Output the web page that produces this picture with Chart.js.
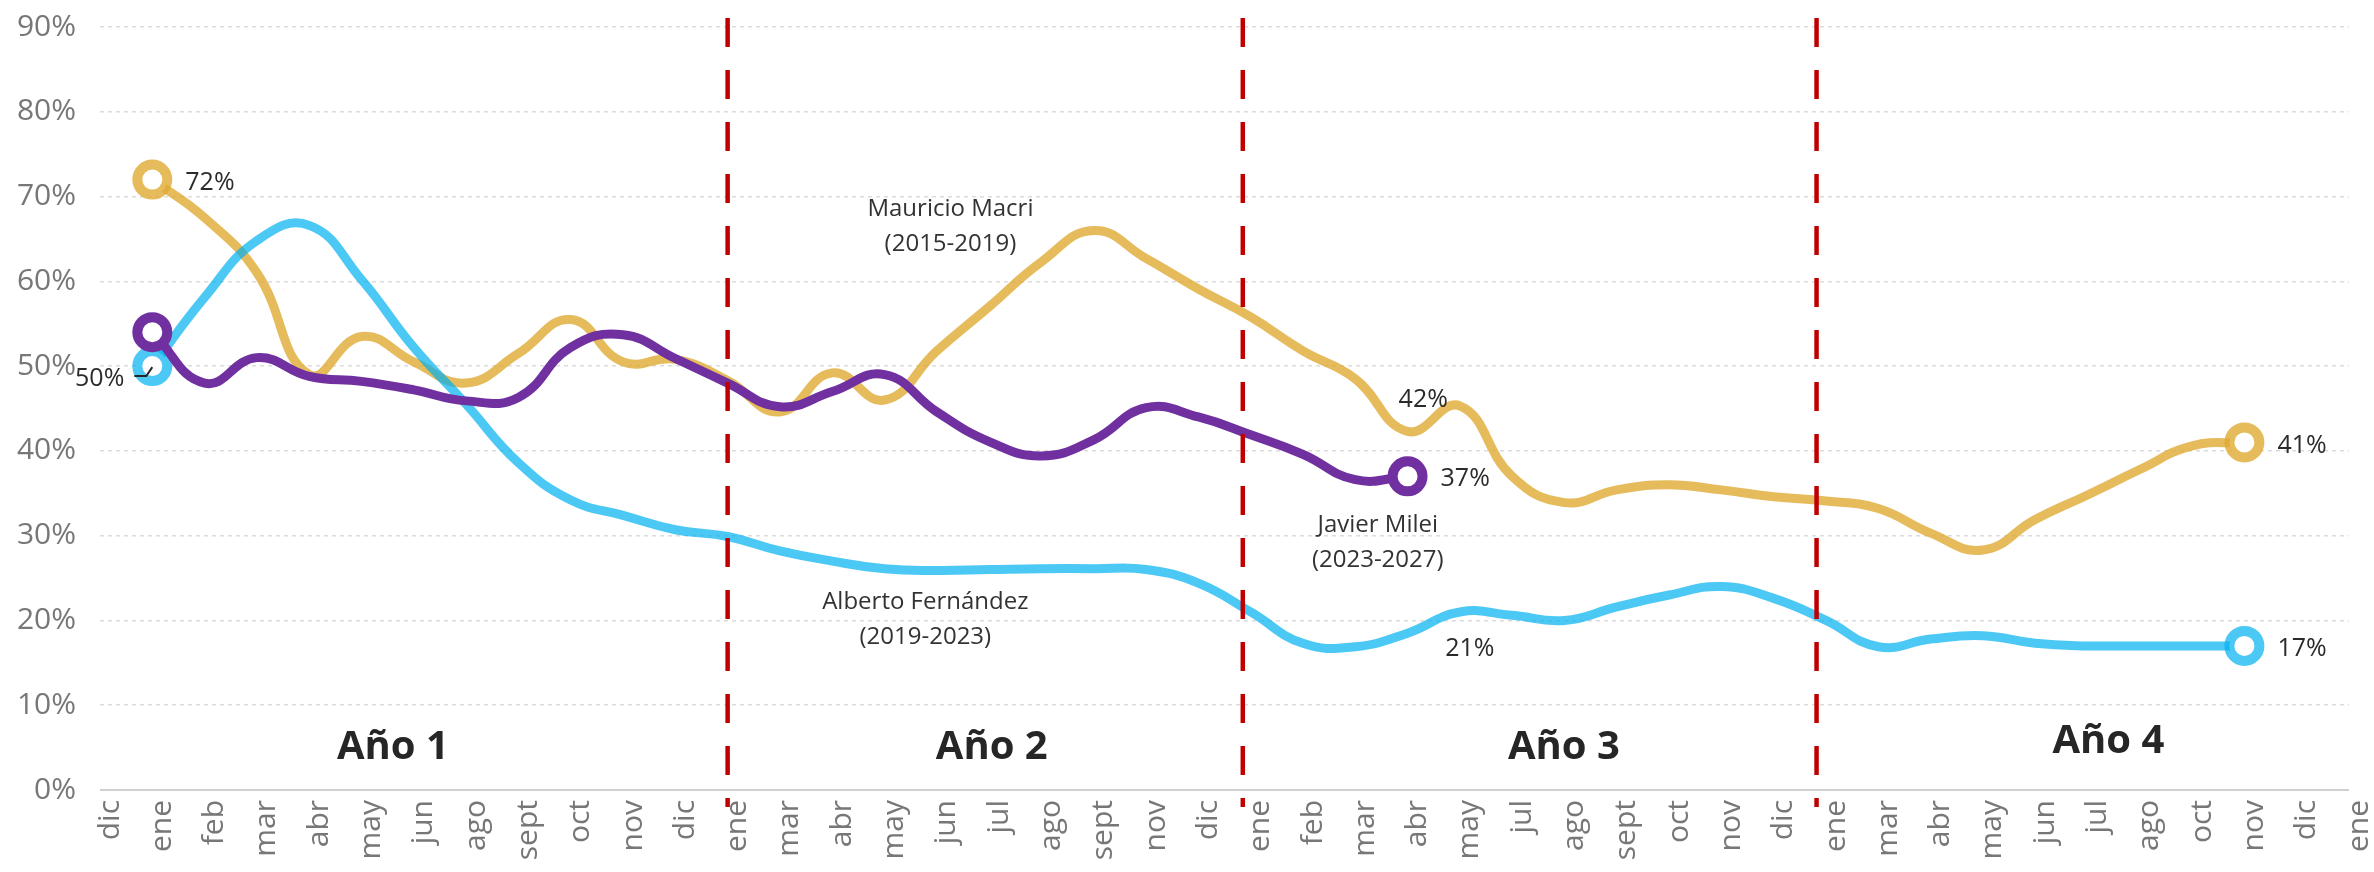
<!DOCTYPE html>
<html>
<head>
<meta charset="utf-8">
<script src="https://cdn.jsdelivr.net/npm/chart.js@4.4.1/dist/chart.umd.min.js"></script>
<style>
  html, body { margin: 0; padding: 0; background: #fff; }
</style>
</head>
<body>
<canvas id="chart" width="2374" height="872"></canvas>
<script>
// category labels (one per poll)
const months = ['dic', 'ene', 'feb', 'mar', 'abr', 'may', 'jun', 'ago', 'sept', 'oct', 'nov', 'dic',
  'ene', 'mar', 'abr', 'may', 'jun', 'jul', 'ago', 'sept', 'nov', 'dic',
  'ene', 'feb', 'mar', 'abr', 'may', 'jul', 'ago', 'sept', 'oct', 'nov', 'dic',
  'ene', 'mar', 'abr', 'may', 'jun', 'jul', 'ago', 'oct', 'nov', 'dic', 'ene'];

// approval, %
const macri = [null, 72, 67.5, 61, 49, 53.5, 50.5, 48, 51.5, 55.5, 50.5, 50.8, 48.3, 44.6, 49.2, 46, 51.8, 57, 62.3, 66, 62.7,
  59.1, 55.8, 51.8, 48.5, 42.3, 45.3, 37, 33.9, 35.4, 36, 35.4, 34.6, 34.1, 33.2, 30.3, 28.3, 31.9, 34.8, 37.8, 40.6, 41, null, null];
const fernandez = [null, 50, 58.1, 64.8, 66.6, 60.2, 52.2, 45.5, 38.6, 34.2, 32.4, 30.7, 29.9, 28.2, 27, 26.1, 25.9, 26, 26.1, 26.1, 26,
  24.4, 21, 17.3, 16.9, 18.5, 21, 20.6, 20, 21.6, 23, 24, 22.6, 20, 16.9, 17.8, 18.2, 17.3, 17, 17, 17, 17, null, null];
const milei = [null, 54, 48, 51, 48.8, 48.2, 47.2, 45.9, 46.3, 52.2, 53.7, 50.9, 48, 45.2, 47, 49, 44.6, 41.1, 39.4, 41.3, 45.1,
  44, 41.9, 39.6, 36.6, 37, null, null, null, null, null, null, null, null, null, null, null, null, null, null, null, null, null, null];

const yTicks = [0, 10, 20, 30, 40, 50, 60, 70, 80, 90];

// year separators, in category units
const yearBreaks = [12, 21.85, 32.82];

const FONT = "'Open Sans', 'Noto Sans', sans-serif";

const firstIdx = arr => arr.findIndex(v => v !== null);
const lastIdx = arr => arr.length - 1 - [...arr].reverse().findIndex(v => v !== null);

const endRadius = arr => ctx => (ctx.dataIndex === firstIdx(arr) || ctx.dataIndex === lastIdx(arr)) ? 15 : 0;

const makeSet = (label, data, color, order) => ({
  label: label,
  data: data,
  borderColor: color,
  borderWidth: 9,
  tension: 0.45,
  order: order,
  pointRadius: endRadius(data),
  pointHoverRadius: endRadius(data),
  pointBorderWidth: 10,
  pointBorderColor: color,
  pointBackgroundColor: '#ffffff'
});

const overlay = {
  id: 'overlay',
  afterDatasetsDraw(chart) {
    const { ctx, chartArea, scales: { x, y } } = chart;
    ctx.save();

    ctx.strokeStyle = '#C00000';
    ctx.lineWidth = 4.5;
    ctx.setLineDash([29, 23]);
    yearBreaks.forEach(v => {
      const px = x.getPixelForValue(v);
      ctx.beginPath();
      ctx.moveTo(px, chartArea.top - 9);
      ctx.lineTo(px, chartArea.bottom + 17);
      ctx.stroke();
    });
    ctx.setLineDash([]);

    const text = (s, px, py, font, align) => {
      ctx.font = font;
      ctx.textAlign = align || 'center';
      ctx.textBaseline = 'middle';
      ctx.fillText(s, px, py);
    };
    const at = (s, xv, yv, font, align) => text(s, x.getPixelForValue(xv), y.getPixelForValue(yv), font, align);

    // year captions
    ctx.fillStyle = '#262626';
    const bold = '700 40px ' + FONT;
    at('Año 1', 5.6, 4.95, bold);
    at('Año 2', 17.05, 4.95, bold);
    at('Año 3', 27.99, 4.95, bold);
    at('Año 4', 38.4, 5.7, bold);

    // president names
    ctx.fillStyle = '#333333';
    const note = '24px ' + FONT;
    at('Mauricio Macri', 16.26, 68.5, note);
    at('(2015-2019)', 16.26, 64.4, note);
    at('Alberto Fernández', 15.78, 22.1, note);
    at('(2019-2023)', 15.78, 18.0, note);
    at('Javier Milei', 24.43, 31.2, note);
    at('(2023-2027)', 24.43, 27.1, note);

    // value labels
    const lab = '25px ' + FONT;
    ctx.fillStyle = '#2b2b2b';
    const pt = (di, idx) => chart.getDatasetMeta(di).data[idx];
    const sets = [macri, fernandez, milei];
    sets.forEach((arr, di) => {
      const p = pt(di, lastIdx(arr));
      text(Math.round(arr[lastIdx(arr)]) + '%', p.x + 33, p.y + 3, lab, 'left');
    });
    const g0 = pt(0, firstIdx(macri));
    text(macri[firstIdx(macri)] + '%', g0.x + 33, g0.y + 3, lab, 'left');

    const b0 = pt(1, firstIdx(fernandez));
    text(fernandez[firstIdx(fernandez)] + '%', b0.x - 28, b0.y + 13, lab, 'right');
    ctx.strokeStyle = '#262626';
    ctx.lineWidth = 2;
    ctx.beginPath();
    ctx.moveTo(b0.x - 18, b0.y + 10);
    ctx.lineTo(b0.x - 6, b0.y + 10);
    ctx.lineTo(b0.x, b0.y + 1);
    ctx.stroke();

    at('42%', 25.3, 46, lab);
    at('21%', 26.19, 16.6, lab);

    ctx.restore();
  }
};

new Chart(document.getElementById('chart'), {
  type: 'line',
  data: {
    labels: months,
    datasets: [
      makeSet('Mauricio Macri', macri, 'rgba(223,170,50,0.8)', 3),
      makeSet('Alberto Fernández', fernandez, 'rgba(0,176,240,0.7)', 2),
      makeSet('Javier Milei', milei, '#7030A0', 1)
    ]
  },
  options: {
    responsive: false,
    animation: false,
    events: [],
    layout: { autoPadding: false, padding: { top: 27, right: 25, left: 0, bottom: 0 } },
    plugins: {
      legend: { display: false },
      tooltip: { enabled: false }
    },
    scales: {
      x: {
        type: 'category',
        offset: false,
        grid: { display: false, drawTicks: false },
        border: { display: false },
        ticks: {
          autoSkip: false,
          maxRotation: 90,
          minRotation: 90,
          padding: 10,
          labelOffset: 10,
          color: '#777777',
          font: { family: FONT, size: 30, weight: '400' }
        },
        afterFit: scale => {
          scale.height = 82;
          scale.paddingLeft = 0;
          scale.paddingRight = 0;
        }
      },
      y: {
        min: 0,
        max: 90,
        afterBuildTicks: scale => { scale.ticks = yTicks.map(v => ({ value: v })); },
        grid: {
          drawTicks: false,
          color: ctx => ctx.tick && ctx.tick.value === 0 ? '#d0d0d0' : '#dcdcdc',
          lineWidth: ctx => ctx.tick && ctx.tick.value === 0 ? 2 : 1.5
        },
        border: {
          display: false,
          dash: ctx => ctx.tick && ctx.tick.value === 0 ? [] : [4, 4]
        },
        ticks: {
          padding: 24,
          color: '#777777',
          font: { family: FONT, size: 30, weight: '400' },
          callback: v => v + '%'
        },
        afterFit: scale => {
          scale.width = 100;
          scale.paddingTop = 0;
          scale.paddingBottom = 0;
        }
      }
    }
  },
  plugins: [overlay]
});
</script>
</body>
</html>
